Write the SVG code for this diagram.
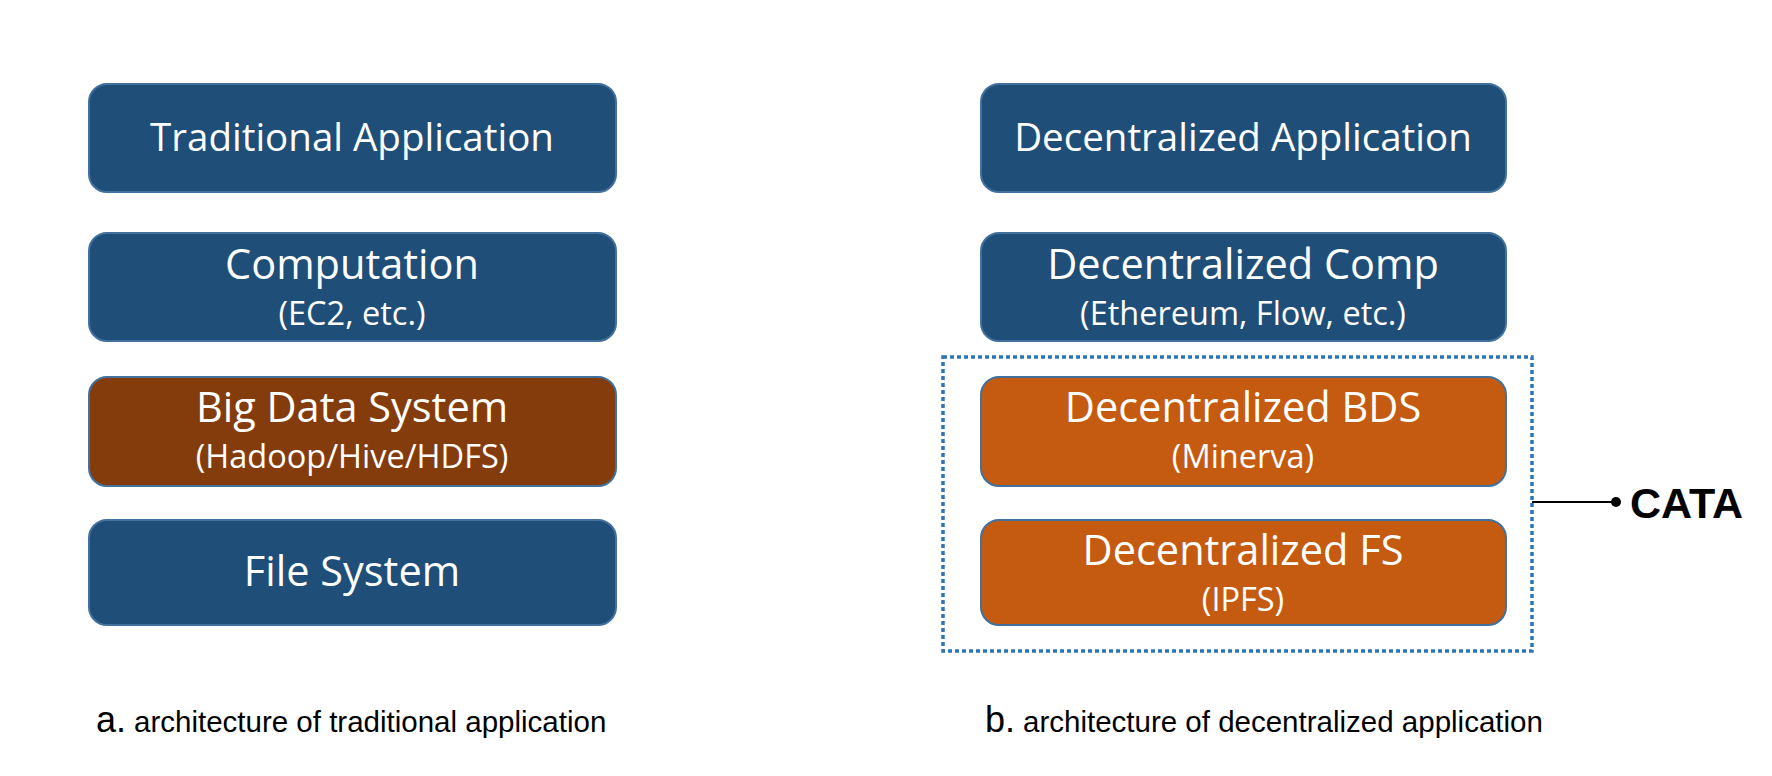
<svg xmlns="http://www.w3.org/2000/svg" width="1772" height="776" viewBox="0 0 1772 776">
<style>
.box{stroke:#41719C;stroke-width:2}
.blue{fill:#1F4E79}
.brown{fill:#843C0C}
.orange{fill:#C55A11}
.t{font-family:"Open Sans","Noto Sans",sans-serif;fill:#fff;text-anchor:middle}
.l{font-size:38.5px}
.m{font-size:41.5px}
.s{font-size:32.5px}
.cap{font-family:"Liberation Sans",Arial,sans-serif;fill:#000}
</style>
<rect width="1772" height="776" fill="#fff"/>
<g id="trad-app"><rect class="box blue" x="89" y="84" width="527" height="108" rx="18"/><text class="t l" x="352" y="151">Traditional Application</text></g>
<g id="computation"><rect class="box blue" x="89" y="233" width="527" height="108" rx="18"/><text class="t m" x="352" y="279">Computation</text><text class="t s" x="352" y="325">(EC2, etc.)</text></g>
<g id="bds"><rect class="box brown" x="89" y="377" width="527" height="109" rx="18"/><text class="t m" x="352" y="422">Big Data System</text><text class="t s" x="352" y="468">(Hadoop/Hive/HDFS)</text></g>
<g id="fs"><rect class="box blue" x="89" y="520" width="527" height="105" rx="18"/><text class="t m" x="352" y="586">File System</text></g>
<g id="dec-app"><rect class="box blue" x="981" y="84" width="525" height="108" rx="18"/><text class="t l" x="1243" y="151">Decentralized Application</text></g>
<g id="dec-comp"><rect class="box blue" x="981" y="233" width="525" height="108" rx="18"/><text class="t m" x="1243" y="279">Decentralized Comp</text><text class="t s" x="1243" y="325">(Ethereum, Flow, etc.)</text></g>
<g id="dec-bds"><rect class="box orange" x="981" y="377" width="525" height="109" rx="18"/><text class="t m" x="1243" y="422">Decentralized BDS</text><text class="t s" x="1243" y="468">(Minerva)</text></g>
<g id="dec-fs"><rect class="box orange" x="981" y="520" width="525" height="105" rx="18"/><text class="t m" x="1243" y="565">Decentralized FS</text><text class="t s" x="1243" y="611">(IPFS)</text></g>
<g id="cata-group"><rect x="943" y="357" width="589" height="294" fill="none" stroke="#2E75B6" stroke-width="3.5" stroke-dasharray="4 3"/></g>
<g id="connectors"><line x1="1532" y1="502" x2="1616" y2="502" stroke="#000" stroke-width="2"/><circle cx="1616" cy="502" r="5" fill="#000"/></g>
<g id="cata"><text x="1630" y="518" font-family="Liberation Sans,Arial,sans-serif" font-weight="bold" font-size="43" fill="#000">CATA</text></g>
<g id="captions">
<text class="cap" x="96" y="732"><tspan font-size="36">a.</tspan><tspan font-size="29.5" dx="8">architecture of traditional application</tspan></text>
<text class="cap" x="985" y="732"><tspan font-size="36">b.</tspan><tspan font-size="29.5" dx="8">architecture of decentralized application</tspan></text>
</g>
</svg>
